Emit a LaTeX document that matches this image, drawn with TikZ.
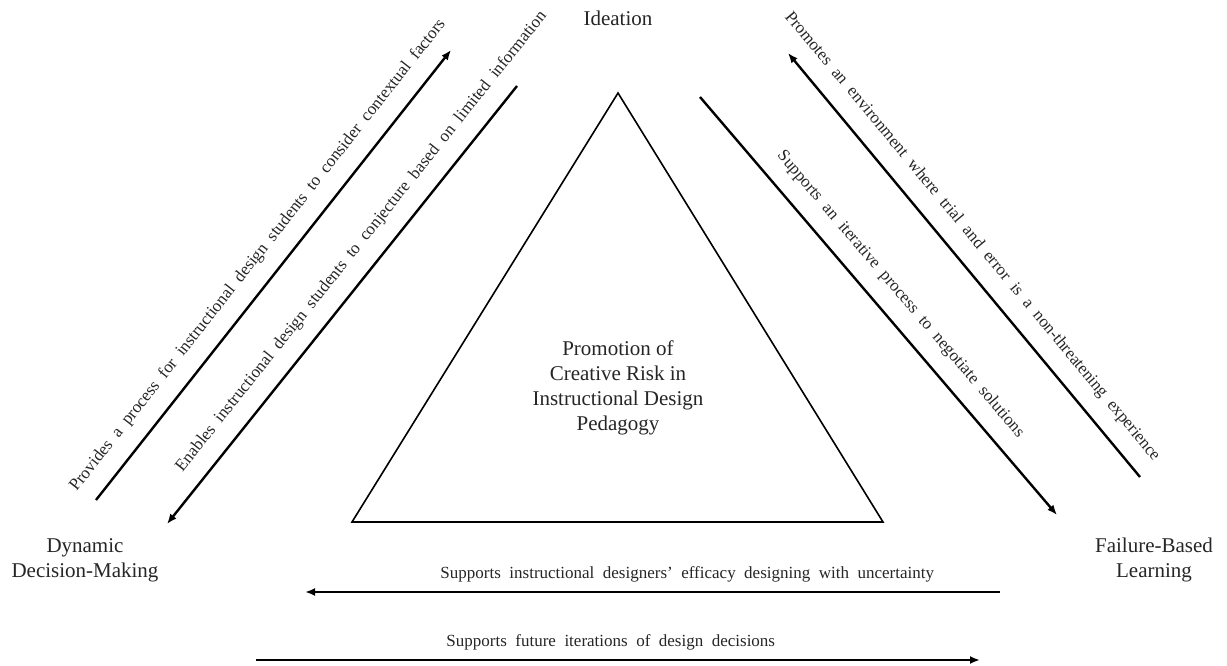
\documentclass[tikz,border=0pt]{standalone}
\usepackage{fontspec}
\setmainfont{Liberation Serif}
\usetikzlibrary{arrows.meta}
\newcommand\smallwide{\fontsize{17}{20}\selectfont\spaceskip=8.5pt plus 1pt\relax}
\begin{document}
\begin{tikzpicture}[x=1pt,y=-1pt,
  arr/.style={line width=2.4pt, -{Latex[length=10pt,width=8pt]}},
  tri/.style={line width=1.6pt, line join=miter},
  lbl/.style={font=\fontsize{21}{25}\selectfont, align=center, text=black!85},
  smallfont/.style={font=\smallwide, text=black!85},
  diag/.style={smallfont, sloped, above=12pt},
  horiz/.style={smallfont, above=5pt},
]
\useasboundingbox (0,0) rectangle (1227,666);
\fill[white] (0,0) rectangle (1227,666);

% labels
\node[lbl] (idea) at (618,18) {Ideation};
\node[lbl] (ddm) at (85,560) {Dynamic\\Decision-Making};
\node[lbl] (fbl) at (1154,560) {Failure-Based\\Learning};

% triangle
\coordinate (ta) at (618,93);
\coordinate (tl) at (352,522);
\coordinate (tr) at (883,522);
\draw[tri] (ta) -- (tl) -- (tr) -- cycle;
\node[lbl] (core) at (618,388) {Promotion of\\Creative Risk in\\Instructional Design\\Pedagogy};

% endpoints
\coordinate (l1s) at (96,500);  \coordinate (l1e) at (451,50);
\coordinate (l2s) at (517,86);  \coordinate (l2e) at (167,524);
\coordinate (r1s) at (1140,477); \coordinate (r1e) at (788,53);
\coordinate (r2s) at (700,97);  \coordinate (r2e) at (1057,515);
\coordinate (b1s) at (1000,592); \coordinate (b1e) at (305,592);
\coordinate (b2s) at (256,660); \coordinate (b2e) at (980,660);

\draw[arr] (l1s) -- (l1e) node[diag, pos=0.51] {Provides a process for instructional design students to consider contextual factors};
\draw[arr] (l2s) -- (l2e) node[diag, pos=0.39] {Enables instructional design students to conjecture based on limited information};
\draw[arr] (r1s) -- (r1e) node[diag, pos=0.53] {Promotes an environment where trial and error is a non-threatening experience};
\draw[arr] (r2s) -- (r2e) node[diag, pos=0.51] {Supports an iterative process to negotiate solutions};
\draw[arr] (b1s) -- (b1e) node[horiz, pos=0.45] {Supports instructional designers' efficacy designing with uncertainty};
\draw[arr] (b2s) -- (b2e) node[horiz, pos=0.49] {Supports future iterations of design decisions};
\end{tikzpicture}
\end{document}
